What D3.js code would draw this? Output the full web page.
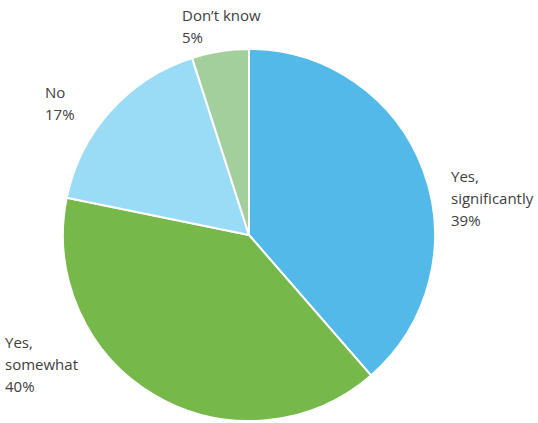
<!DOCTYPE html>
<html>
<head>
<meta charset="utf-8">
<script src="https://cdn.jsdelivr.net/npm/d3@7"></script>
<style>
  body { margin: 0; background: #fff; }
  text { font-family: "Open Sans", "Noto Sans", sans-serif; font-size: 15px; fill: #404040; }
</style>
</head>
<body>
<div id="chart"></div>
<script>
var categories = ["Yes, significantly", "Yes, somewhat", "No", "Don\u2019t know"];
var values = [39, 40, 17, 5];
var labelLines = [["Yes,", "significantly", "39%"], ["Yes,", "somewhat", "40%"], ["No", "17%"], ["Don\u2019t know", "5%"]];
var colors = ["#52b9e8", "#76b84a", "#9adcf6", "#a3cf9d"];

var w = 538,
    h = 423,
    cx = 249,
    cy = 235,
    r = 186;

var svg = d3.select("#chart")
    .append("svg")
    .attr("width", w)
    .attr("height", h);

var pie = d3.pie().sort(null).value(function(d) { return d; });
var arc = d3.arc().innerRadius(0).outerRadius(r);
var arcs = pie(values);

var g = svg.append("g").attr("transform", "translate(" + cx + "," + cy + ")");

// slices
g.selectAll("path")
    .data(arcs)
    .enter().append("path")
    .attr("d", arc)
    .attr("fill", function(d, i) { return colors[i]; })
    .attr("stroke", "#fff")
    .attr("stroke-width", 2)
    .attr("stroke-linejoin", "round");

// label anchors (top-left of each text block, relative to page)
var labelAnchor = [[451, 182], [5, 348], [45, 98], [182, 21]];

var labels = svg.selectAll("text.lbl")
    .data(categories)
    .enter().append("text")
    .attr("class", "lbl")
    .attr("x", function(d, i) { return labelAnchor[i][0]; })
    .attr("y", function(d, i) { return labelAnchor[i][1]; });

labels.each(function(d, i) {
    var t = d3.select(this);
    labelLines[i].forEach(function(line, j) {
        t.append("tspan")
            .attr("x", labelAnchor[i][0])
            .attr("dy", j === 0 ? 0 : 22)
            .text(line);
    });
});
</script>
</body>
</html>
